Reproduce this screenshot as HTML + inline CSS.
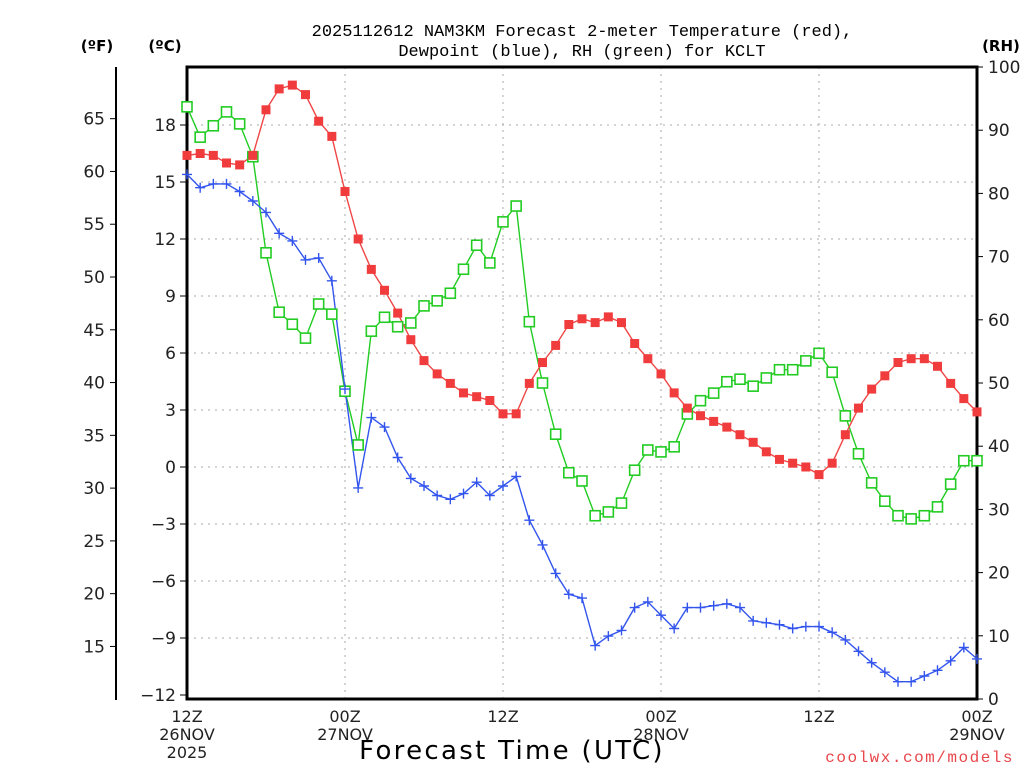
<!DOCTYPE html>
<html><head><meta charset="utf-8"><style>
html,body{margin:0;padding:0;background:#fff;width:1024px;height:768px;overflow:hidden}
svg{display:block;font-family:"DejaVu Sans","Liberation Sans",sans-serif}
</style></head><body>
<svg id="chart" width="1024" height="768" viewBox="0 0 1024 768">
<text x="582" y="36" font-size="17" font-family="Liberation Mono, monospace" text-anchor="middle">2025112612 NAM3KM Forecast 2-meter Temperature (red),</text>
<text x="582" y="56" font-size="17" font-family="Liberation Mono, monospace" text-anchor="middle">Dewpoint (blue), RH (green) for KCLT</text>
<text x="97" y="51" font-size="15" font-weight="bold" text-anchor="middle">(ºF)</text>
<text x="165" y="51" font-size="15" font-weight="bold" text-anchor="middle">(ºC)</text>
<text x="1001" y="51" font-size="15" font-weight="bold" text-anchor="middle">(RH)</text>
<g id="grid"></g><g id="axes"></g><g id="series"></g>
<text x="512" y="759" font-size="26" text-anchor="middle" letter-spacing="2.3">Forecast Time (UTC)</text>
<text x="1014" y="762" font-size="16" font-family="Liberation Mono, monospace" fill="#e8474c" text-anchor="end" letter-spacing="1.5">coolwx.com/models</text>
</svg>
<script>
const hours = Array.from({length:61},(_,i)=>i);
const tempC = [16.4,16.5,16.4,16.0,15.9,16.4,18.8,19.9,20.1,19.6,18.2,17.4,14.5,12.0,10.4,9.3,8.1,6.7,5.6,4.9,4.4,3.9,3.7,3.5,2.8,2.8,4.4,5.5,6.4,7.5,7.8,7.6,7.9,7.6,6.5,5.7,4.9,3.9,3.1,2.7,2.4,2.1,1.7,1.3,0.8,0.4,0.2,0.0,-0.4,0.2,1.7,3.1,4.1,4.8,5.5,5.7,5.7,5.3,4.4,3.6,2.9];
const dewC = [15.4,14.7,14.9,14.9,14.5,14.0,13.4,12.3,11.9,10.9,11.0,9.8,4.1,-1.1,2.6,2.1,0.5,-0.6,-1.0,-1.5,-1.7,-1.4,-0.8,-1.5,-1.0,-0.5,-2.8,-4.1,-5.6,-6.7,-6.9,-9.4,-8.9,-8.6,-7.4,-7.1,-7.8,-8.5,-7.4,-7.4,-7.3,-7.2,-7.4,-8.1,-8.2,-8.3,-8.5,-8.4,-8.4,-8.7,-9.1,-9.7,-10.3,-10.8,-11.3,-11.3,-11.0,-10.7,-10.2,-9.5,-10.1];
const rh = [93.7,88.9,90.7,92.9,91.0,85.8,70.6,61.2,59.3,57.1,62.5,60.9,48.7,40.2,58.2,60.4,58.9,59.5,62.2,63.0,64.2,68.0,71.8,69.0,75.5,78.0,59.7,50.0,41.9,35.8,34.5,29.0,29.6,31.0,36.2,39.4,39.1,39.9,45.1,47.2,48.4,50.2,50.6,49.5,50.8,52.1,52.1,53.5,54.7,51.7,44.8,38.8,34.2,31.3,29.0,28.5,29.0,30.4,34.0,37.7,37.7];
const cTicks = [18,15,12,9,6,3,0,-3,-6,-9,-12];
const fTicks = [65,60,55,50,45,40,35,30,25,20,15];
const rhTicks = [100,90,80,70,60,50,40,30,20,10,0];
const xTickHours = [0,12,24,36,48,60];
const xTickLabels = [["12Z","26NOV","2025"],["00Z","27NOV"],["12Z"],["00Z","28NOV"],["12Z"],["00Z","29NOV"]];

const L=187,R=977,T=67,B=699;
const xS=h=>L+(h/60)*(R-L);
const yC=c=>467-c*19;
const yF=f=>yC((f-32)*5/9);
const yRH=v=>B-v*(B-T)/100;
const NS="http://www.w3.org/2000/svg";
function mk(tag,attrs,parent){const e=document.createElementNS(NS,tag);for(const k in attrs)e.setAttribute(k,attrs[k]);parent.appendChild(e);return e;}
const grid=document.getElementById('grid'),axes=document.getElementById('axes'),ser=document.getElementById('series');

cTicks.forEach(c=>{
  const y=yC(c);
  if(c>-12){const g=mk('line',{x1:L,x2:R,y1:y,y2:y,stroke:'#aaa','stroke-width':1,'stroke-dasharray':'2,5'},grid);
  
  }
  const t=mk('line',{x1:L-7,x2:L,y1:y,y2:y,stroke:'#000','stroke-width':1},axes);
  
  
  const tx=mk('text',{x:L-11,y:y+6,'font-size':17,'text-anchor':'end',fill:'#222'},axes);
  tx.textContent=c<0?'\u2212'+(-c):String(c);
  
  
});
xTickHours.forEach((h,i)=>{
  const x=xS(h);
  if(h>0&&h<60){const g=mk('line',{x1:x,x2:x,y1:T,y2:B,stroke:'#aaa','stroke-width':1,'stroke-dasharray':'2,5'},grid);
  
  }
  xTickLabels[i].forEach((s,j)=>{
    const tx=mk('text',{x:x,y:722+j*18,'font-size':16,'text-anchor':'middle',fill:'#222'},axes);
    tx.textContent=s;
    
    
  });
});
const fl=mk('line',{x1:116,x2:116,y1:T,y2:B+1,stroke:'#000','stroke-width':2},axes);


fTicks.forEach(f=>{
  const y=yF(f);
  const t=mk('line',{x1:110,x2:116,y1:y,y2:y,stroke:'#000','stroke-width':1},axes);
  
  
  const tx=mk('text',{x:105,y:y+6,'font-size':17,'text-anchor':'end',fill:'#222'},axes);
  tx.textContent=String(f);
  
  
});
rhTicks.forEach(v=>{
  const y=yRH(v);
  const t=mk('line',{x1:R,x2:R+6,y1:y,y2:y,stroke:'#000','stroke-width':1},axes);
  
  
  const tx=mk('text',{x:R+11,y:y+6,'font-size':17,'text-anchor':'start',fill:'#222'},axes);
  tx.textContent=String(v);
  
  
});
const box=mk('rect',{x:L,y:T,width:R-L,height:B-T,fill:'none',stroke:'#000','stroke-width':3},axes);



function line(vals,yf,color,name){
  const p=mk('polyline',{points:vals.map((v,i)=>xS(hours[i])+','+yf(v)).join(' '),fill:'none',stroke:color,'stroke-width':1.4},ser);
  
  
}
line(rh,yRH,'#22cc22','rh-line');
line(tempC,yC,'#f04545','temperature-line');
line(dewC,yC,'#3355ee','dewpoint-line');
rh.forEach((v,i)=>{
  const x=xS(hours[i]),y=yRH(v);
  const m=mk('rect',{x:x-5,y:y-5,width:10,height:10,fill:'#fff',stroke:'#22cc22','stroke-width':1.6},ser);
  
  
});
tempC.forEach((v,i)=>{
  const x=xS(hours[i]),y=yC(v);
  const m=mk('rect',{x:x-4.5,y:y-4.5,width:9,height:9,fill:'#f03c3c'},ser);
  
  
});
dewC.forEach((v,i)=>{
  const x=xS(hours[i]),y=yC(v);
  const m=mk('path',{d:`M${x-5},${y}H${x+5}M${x},${y-5}V${y+5}`,stroke:'#3355ee','stroke-width':1.4},ser);
  
  
});
</script>
</body></html>
